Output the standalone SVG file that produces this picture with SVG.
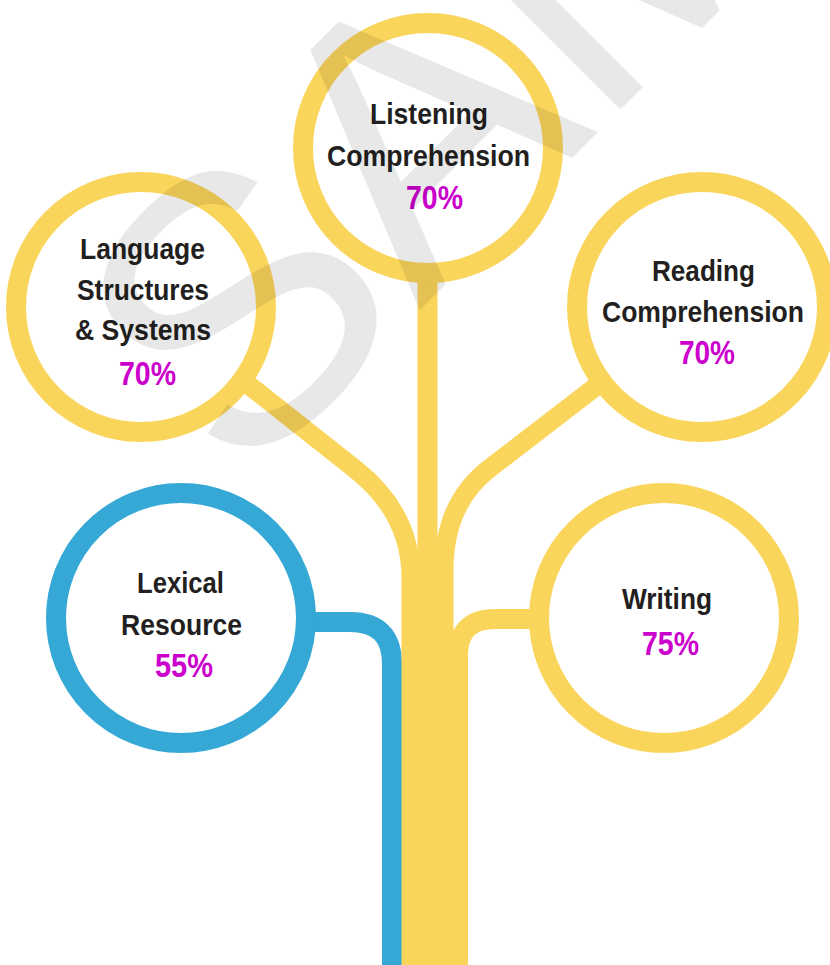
<svg xmlns="http://www.w3.org/2000/svg" width="830" height="965" viewBox="0 0 830 965">
<style>
.ring{fill:none;stroke-width:20}
.y{stroke:#FAD55C}
.b{stroke:#35A8D6}
.conn{fill:none;stroke-linecap:butt;stroke-linejoin:round}
.lbl{font-family:"Liberation Sans",Arial,Helvetica,sans-serif;font-weight:bold;font-size:30px;fill:#231F20;text-anchor:middle}
.pct{font-family:"Liberation Sans",Arial,Helvetica,sans-serif;font-weight:bold;font-size:33px;fill:#CC00CC;text-anchor:middle}
.wm{font-family:"Liberation Sans",Arial,Helvetica,sans-serif;font-size:380px;fill:#000;fill-opacity:0.09}
</style>
<rect width="830" height="965" fill="#ffffff"/>
<g id="connectors" class="conn">
  <path class="b" stroke-width="20" d="M302 622 L350 622 Q392 622 392 664 L392 965"/>
  <path class="y" stroke-width="19" d="M236 375 L355 469 Q411 513 411 578 L411 965"/>
  <path class="y" stroke-width="20" d="M427.5 266 L427.5 965"/>
  <path class="y" stroke-width="19" d="M607 378 L490 468 Q444 503 444 570 L444 965"/>
  <path class="y" stroke-width="20" d="M542 619 L495 619 Q458 619 458 656 L458 965"/>
</g>
<g id="listening">
  <circle class="ring y" cx="428" cy="148" r="125"/>
  <text class="lbl" x="429" y="124" textLength="118" lengthAdjust="spacingAndGlyphs">Listening</text>
  <text class="lbl" x="428.5" y="166" textLength="203" lengthAdjust="spacingAndGlyphs">Comprehension</text>
  <text class="pct" x="434.5" y="209" textLength="57" lengthAdjust="spacingAndGlyphs">70%</text>
</g>
<g id="language">
  <circle class="ring y" cx="141" cy="307" r="125"/>
  <text class="lbl" x="142.5" y="259" textLength="125" lengthAdjust="spacingAndGlyphs">Language</text>
  <text class="lbl" x="143" y="300" textLength="132" lengthAdjust="spacingAndGlyphs">Structures</text>
  <text class="lbl" x="143" y="340" textLength="136" lengthAdjust="spacingAndGlyphs">&amp; Systems</text>
  <text class="pct" x="147.5" y="385" textLength="57" lengthAdjust="spacingAndGlyphs">70%</text>
</g>
<g id="reading">
  <circle class="ring y" cx="702" cy="307" r="125"/>
  <text class="lbl" x="703.5" y="281" textLength="103" lengthAdjust="spacingAndGlyphs">Reading</text>
  <text class="lbl" x="703" y="322" textLength="202" lengthAdjust="spacingAndGlyphs">Comprehension</text>
  <text class="pct" x="707" y="364" textLength="56" lengthAdjust="spacingAndGlyphs">70%</text>
</g>
<g id="lexical">
  <circle class="ring b" cx="181" cy="618" r="125"/>
  <text class="lbl" x="180.5" y="593" textLength="87" lengthAdjust="spacingAndGlyphs">Lexical</text>
  <text class="lbl" x="181.5" y="635" textLength="121" lengthAdjust="spacingAndGlyphs">Resource</text>
  <text class="pct" x="184" y="677" textLength="58" lengthAdjust="spacingAndGlyphs">55%</text>
</g>
<g id="writing">
  <circle class="ring y" cx="664" cy="618" r="125"/>
  <text class="lbl" x="667" y="609" textLength="90" lengthAdjust="spacingAndGlyphs">Writing</text>
  <text class="pct" x="670.5" y="655" textLength="57" lengthAdjust="spacingAndGlyphs">75%</text>
</g>
<g id="watermark">
  <text class="wm" transform="translate(240,490) rotate(-45)">SAMPLE</text>
</g>
</svg>
